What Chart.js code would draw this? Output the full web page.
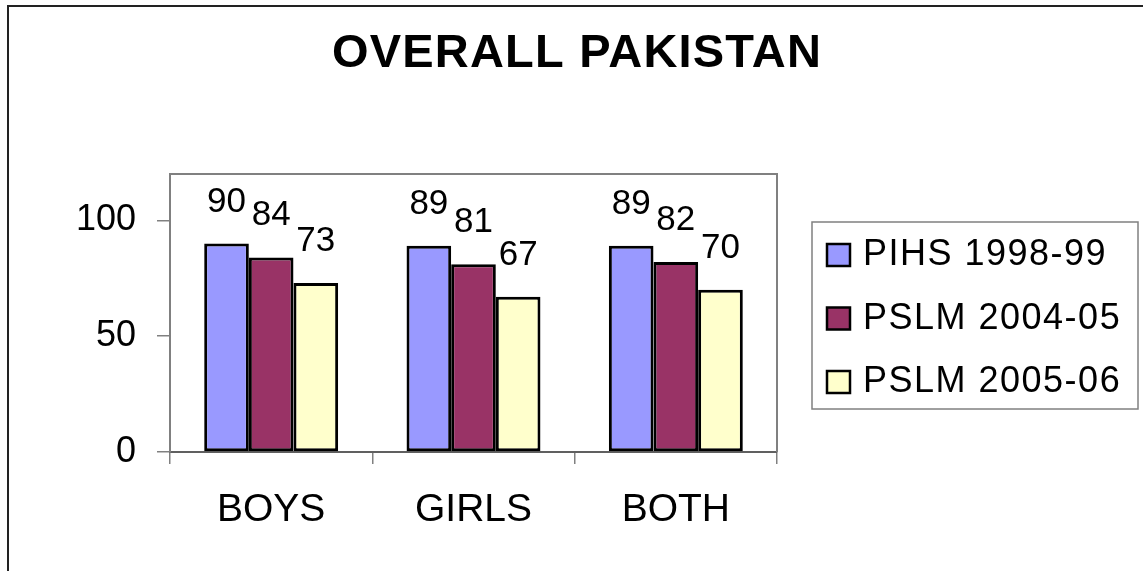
<!DOCTYPE html>
<html>
<head>
<meta charset="utf-8">
<title>OVERALL PAKISTAN</title>
<script src="https://cdn.jsdelivr.net/npm/chart.js@4"></script>
<style>
    html, body { margin: 0; padding: 0; background: #fff; }
    #chart { display: block; }
</style>
</head>
<body>
<canvas id="chart" width="1143" height="571"></canvas>
<script>
// Chart data
const chartTitle = 'OVERALL PAKISTAN';
const categories = ['BOYS', 'GIRLS', 'BOTH'];
const seriesNames = ['PIHS 1998-99', 'PSLM 2004-05', 'PSLM 2005-06'];
const pihs9899 = [90, 89, 89];
const pslm0405 = [84, 81, 82];
const pslm0506 = [73, 67, 70];
const seriesColors = ['#9999FF', '#993366', '#FFFFCC'];
const yTicks = [0, 50, 100];

const fontFamily = '"Liberation Sans", Arial, Helvetica, sans-serif';
Chart.defaults.font.family = fontFamily;
Chart.defaults.color = '#000';

// Outer frame, title, plot frame, value labels and legend box
const decorPlugin = {
    id: 'decor',
    beforeDraw(chart) {
        const ctx = chart.ctx;
        ctx.save();
        ctx.fillStyle = '#fff';
        ctx.fillRect(0, 0, chart.width, chart.height);
        // chart border (only top and left are visible in the picture)
        ctx.strokeStyle = '#222';
        ctx.lineWidth = 2;
        ctx.beginPath();
        ctx.moveTo(8, chart.height);
        ctx.lineTo(8, 6);
        ctx.lineTo(chart.width, 6);
        ctx.stroke();
        // title
        ctx.font = 'bold 47px ' + fontFamily;
        ctx.letterSpacing = '1.2px';
        ctx.textAlign = 'center';
        ctx.textBaseline = 'alphabetic';
        ctx.fillStyle = '#000';
        ctx.fillText(chartTitle, 577, 66.5);
        ctx.restore();
    },
    afterDraw(chart) {
        const ctx = chart.ctx;
        const area = chart.chartArea;
        ctx.save();
        // plot area frame (top and right)
        ctx.strokeStyle = '#808080';
        ctx.lineWidth = 2;
        ctx.beginPath();
        ctx.moveTo(area.left, area.top);
        ctx.lineTo(area.right, area.top);
        ctx.lineTo(area.right, area.bottom);
        ctx.stroke();

        // value labels above bars
        ctx.font = '35px ' + fontFamily;
        ctx.textAlign = 'center';
        ctx.textBaseline = 'alphabetic';
        ctx.fillStyle = '#000';
        chart.data.datasets.forEach((ds, i) => {
            const meta = chart.getDatasetMeta(i);
            meta.data.forEach((bar, j) => {
                ctx.fillText(String(ds.data[j]), bar.x, bar.y - 32);
            });
        });

        // legend
        const lx = 812, ly = 222, lw = 326, lh = 187;
        ctx.strokeStyle = '#808080';
        ctx.lineWidth = 1.5;
        ctx.strokeRect(lx, ly, lw, lh);
        ctx.font = '36px ' + fontFamily;
        ctx.letterSpacing = '1.5px';
        ctx.textAlign = 'left';
        chart.data.datasets.forEach((ds, i) => {
            const base = 265 + i * 63.5;
            ctx.fillStyle = ds.backgroundColor;
            ctx.fillRect(827, base - 21, 23, 22);
            ctx.strokeStyle = '#000';
            ctx.lineWidth = 2.5;
            ctx.strokeRect(827, base - 21, 23, 22);
            ctx.fillStyle = '#000';
            ctx.fillText(ds.label, 863, base);
        });
        ctx.restore();
    }
};

const ctx = document.getElementById('chart').getContext('2d');
const seriesData = [pihs9899, pslm0405, pslm0506];

const barChart = new Chart(ctx, {
    type: 'bar',
    data: {
        labels: categories,
        datasets: seriesNames.map((name, i) => ({
            label: name,
            data: seriesData[i],
            backgroundColor: seriesColors[i],
            borderColor: '#000',
            borderWidth: 3,
            borderSkipped: false,
            categoryPercentage: 0.662,
            barPercentage: 1.0
        }))
    },
    options: {
        responsive: false,
        devicePixelRatio: 1,
        animation: false,
        layout: { padding: { top: 174, right: 366, left: 0, bottom: 0 } },
        plugins: {
            legend: { display: false },
            title: { display: false },
            tooltip: { enabled: false }
        },
        scales: {
            x: {
                grid: {
                    drawOnChartArea: false,
                    tickLength: 12,
                    color: '#808080',
                    lineWidth: 1.5
                },
                border: { color: '#606060', width: 2 },
                ticks: { font: { size: 39 }, padding: 23, color: '#000' },
                afterFit(scale) { scale.height = 119; }
            },
            y: {
                min: 0,
                max: 120,
                grid: {
                    drawOnChartArea: false,
                    tickLength: 13,
                    color: '#808080',
                    lineWidth: 1.5
                },
                border: { color: '#808080', width: 2 },
                ticks: {
                    stepSize: 50,
                    includeBounds: false,
                    font: { size: 36 },
                    padding: 21,
                    color: '#000',
                    callback: (v) => yTicks.includes(v) ? v : null
                },
                afterFit(scale) { scale.width = 170; }
            }
        }
    },
    plugins: [decorPlugin]
});
</script>
</body>
</html>
